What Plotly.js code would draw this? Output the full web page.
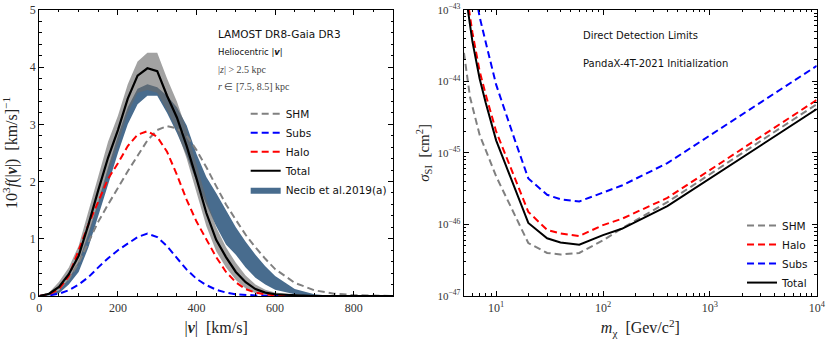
<!DOCTYPE html>
<html>
<head>
<meta charset="utf-8">
<script src="https://cdn.plot.ly/plotly-3.0.1.min.js"></script>
<style>
  html, body { margin: 0; padding: 0; background: #fff; }
  #chart { width: 830px; height: 341px; }
</style>
</head>
<body>
<div id="chart"></div>
<script>
// left panel: speed distributions, 10^3 f(|v|)
const speed = [0, 25, 50, 75, 100, 125, 150, 175, 200, 225, 250, 275, 300, 325, 350, 375, 400,
               425, 450, 475, 500, 525, 550, 575, 600, 650, 700, 750, 800, 850, 900];
const shmF = [0, 0.03, 0.12, 0.3, 0.58, 0.95, 1.3, 1.6, 1.9, 2.18, 2.45, 2.72, 2.9, 2.97, 2.93, 2.8, 2.55,
              2.25, 1.92, 1.6, 1.33, 1.07, 0.85, 0.65, 0.47, 0.23, 0.1, 0.04, 0.015, 0.005, 0];
const subsF = [0, 0.01, 0.04, 0.1, 0.2, 0.33, 0.5, 0.66, 0.8, 0.92, 1.03, 1.09, 1.03, 0.87, 0.66, 0.46, 0.3,
               0.19, 0.11, 0.06, 0.03, 0.015, 0.01, 0.005, 0, 0, 0, 0, 0, 0, 0];
const haloF = [0, 0.03, 0.12, 0.35, 0.8, 1.25, 1.65, 2.05, 2.32, 2.62, 2.82, 2.88, 2.78, 2.52, 2.12, 1.68, 1.3,
               0.98, 0.68, 0.42, 0.24, 0.12, 0.06, 0.03, 0.01, 0, 0, 0, 0, 0, 0];
const totalF = [0, 0.04, 0.16, 0.38, 0.7, 1.25, 1.85, 2.42, 2.9, 3.45, 3.85, 3.98, 3.93, 3.5, 3.12, 2.62, 2.05,
                1.45, 0.98, 0.68, 0.42, 0.24, 0.12, 0.06, 0.03, 0.01, 0, 0, 0, 0, 0];
const totalHi = [0, 0.06, 0.25, 0.5, 0.88, 1.5, 2.1, 2.7, 3.15, 3.7, 4.1, 4.25, 4.25, 3.8, 3.4, 2.9, 2.3,
                 1.7, 1.2, 0.85, 0.58, 0.36, 0.2, 0.11, 0.06, 0.02, 0, 0, 0, 0, 0];
const totalLo = [0, 0.02, 0.1, 0.27, 0.55, 1.05, 1.6, 2.15, 2.65, 3.2, 3.55, 3.6, 3.55, 3.25, 2.9, 2.4, 1.8,
                 1.22, 0.78, 0.5, 0.28, 0.13, 0.05, 0.02, 0.01, 0, 0, 0, 0, 0, 0];
const necibHi = [0, 0.03, 0.1, 0.3, 0.6, 1.1, 1.65, 2.25, 2.8, 3.3, 3.62, 3.7, 3.65, 3.5, 3.3, 2.98, 2.48,
                 2.08, 1.8, 1.5, 1.2, 0.95, 0.72, 0.52, 0.35, 0.12, 0.03, 0, 0, 0, 0];
const necibLo = [0, 0.01, 0.05, 0.2, 0.42, 0.85, 1.4, 1.95, 2.5, 3.0, 3.35, 3.5, 3.5, 3.2, 2.85, 2.45, 2.0,
                 1.6, 1.22, 0.9, 0.72, 0.5, 0.32, 0.2, 0.11, 0.03, 0, 0, 0, 0, 0];

// right panel: cross-section limits [cm^2] vs WIMP mass [GeV/c^2]
const massShm = [5, 5.7, 7, 8, 10, 20, 30, 40, 60, 100, 150, 400, 10000];
const sigmaShm = [2.5e-44, 6e-45, 1.8e-45, 1.1e-45, 4.7e-46, 5.5e-47, 4e-47, 3.8e-47, 4e-47, 6e-47, 8.8e-47, 2.05e-46, 4.8e-45];
const massHalo = [5, 6, 7, 8, 10, 20, 30, 40, 60, 100, 150, 400, 10000];
const sigmaHalo = [3e-43, 4.8e-44, 1.4e-44, 6.5e-45, 2e-45, 1.5e-46, 8.4e-47, 7.5e-47, 6.9e-47, 9.8e-47, 1.2e-46, 2.35e-46, 5.5e-45];
const massSubs = [6, 6.5, 7, 8, 10, 15, 20, 30, 40, 60, 100, 150, 400, 10000];
const sigmaSubs = [3e-43, 1.6e-43, 8e-44, 3.5e-44, 9e-45, 1.5e-45, 4.4e-46, 2.6e-46, 2.25e-46, 2.1e-46, 2.8e-46, 3.5e-46, 7.2e-46, 1.65e-44];
const massTotal = [5, 6, 7, 8, 10, 20, 30, 40, 60, 100, 150, 400, 10000];
const sigmaTotal = [2.4e-43, 3.6e-44, 1.1e-44, 5e-45, 1.5e-45, 1.05e-46, 6.4e-47, 5.6e-47, 5.2e-47, 7.1e-47, 8.7e-47, 1.8e-46, 4.1e-45];

const serif = "Liberation Serif, Times New Roman, serif";
const sans = "DejaVu Sans, sans-serif";
const dashed = "7px,4px";

const band = (x, hi, lo) => ({
    x: [...x, ...x.slice().reverse()],
    y: [...hi, ...lo.slice().reverse()]
});

const necibPoly = band(speed, necibHi, necibLo);
const totalPoly = band(speed, totalHi, totalLo);

const traces = [
    {
        x: necibPoly.x, y: necibPoly.y, type: "scatter", mode: "lines",
        fill: "toself", fillcolor: "#486c8e", line: {width: 0, color: "#486c8e"},
        name: "Necib et al.2019(a)", legendrank: 5, legend: "legend"
    },
    {
        x: totalPoly.x, y: totalPoly.y, type: "scatter", mode: "lines",
        fill: "toself", fillcolor: "rgba(105,105,105,0.62)", line: {width: 0},
        showlegend: false
    },
    {
        x: speed, y: shmF, mode: "lines", name: "SHM", legendrank: 1,
        line: {color: "#808080", width: 2, dash: dashed}
    },
    {
        x: speed, y: subsF, mode: "lines", name: "Subs", legendrank: 2,
        line: {color: "#0000ff", width: 2, dash: dashed}
    },
    {
        x: speed, y: haloF, mode: "lines", name: "Halo", legendrank: 3,
        line: {color: "#ff0000", width: 2, dash: dashed}
    },
    {
        x: speed, y: totalF, mode: "lines", name: "Total", legendrank: 4,
        line: {color: "#000000", width: 2.2}
    },
    // right panel
    {
        x: massShm, y: sigmaShm, mode: "lines", name: "SHM", legendrank: 1,
        xaxis: "x2", yaxis: "y2", legend: "legend2",
        line: {color: "#808080", width: 2, dash: dashed}
    },
    {
        x: massHalo, y: sigmaHalo, mode: "lines", name: "Halo", legendrank: 2,
        xaxis: "x2", yaxis: "y2", legend: "legend2",
        line: {color: "#ff0000", width: 2, dash: dashed}
    },
    {
        x: massSubs, y: sigmaSubs, mode: "lines", name: "Subs", legendrank: 3,
        xaxis: "x2", yaxis: "y2", legend: "legend2",
        line: {color: "#0000ff", width: 2, dash: dashed}
    },
    {
        x: massTotal, y: sigmaTotal, mode: "lines", name: "Total", legendrank: 4,
        xaxis: "x2", yaxis: "y2", legend: "legend2",
        line: {color: "#000000", width: 2}
    }
];

const axisCommon = {
    showline: true, linecolor: "#000", linewidth: 1.3, mirror: "allticks",
    ticks: "inside", ticklen: 5, tickwidth: 1, tickcolor: "#000",
    showgrid: false, zeroline: false,
    tickfont: {family: serif, size: 12, color: "#333"},
    minor: {ticks: "inside", ticklen: 2.5, tickcolor: "#000", showgrid: false}
};

const legendCommon = {
    font: {family: sans, size: 10.5, color: "#111"},
    bgcolor: "rgba(0,0,0,0)", borderwidth: 0,
    xanchor: "left", yanchor: "top", traceorder: "normal"
};

const layout = {
    width: 830, height: 341,
    margin: {l: 0, r: 0, t: 0, b: 0},
    paper_bgcolor: "#fff", plot_bgcolor: "#fff",
    showlegend: true,
    xaxis: {
        ...axisCommon, domain: [0.0474, 0.4735], range: [0, 900],
        tickvals: [0, 200, 400, 600, 800],
        minor: {...axisCommon.minor, dtick: 50},
        title: {text: "|<b><i>v</i></b>|  [km/s]", font: {family: serif, size: 16, color: "#222"}, standoff: 8}
    },
    yaxis: {
        ...axisCommon, domain: [0.132, 0.971], range: [0, 5],
        tickvals: [0, 1, 2, 3, 4, 5],
        minor: {...axisCommon.minor, dtick: 0.2},
        title: {text: "10<sup>3</sup><i>f</i>(|<b><i>v</i></b>|)  [km/s]<sup>−1</sup>", font: {family: serif, size: 16, color: "#222"}, standoff: 8}
    },
    xaxis2: {
        ...axisCommon, type: "log", domain: [0.559, 0.984], range: [Math.log10(5), 4],
        anchor: "y2",
        tickvals: [10, 100, 1000, 10000],
        ticktext: ["10<sup>1</sup>", "10<sup>2</sup>", "10<sup>3</sup>", "10<sup>4</sup>"],
        minor: {...axisCommon.minor, dtick: "D1"},
        title: {text: "<i>m</i><sub>χ</sub>  [Gev/c<sup>2</sup>]", font: {family: serif, size: 16, color: "#222"}, standoff: 8}
    },
    yaxis2: {
        ...axisCommon, type: "log", domain: [0.132, 0.971], range: [-47, -43],
        anchor: "x2",
        tickvals: [1e-47, 1e-46, 1e-45, 1e-44, 1e-43],
        ticktext: ["10<sup>−47</sup>", "10<sup>−46</sup>", "10<sup>−45</sup>", "10<sup>−44</sup>", "10<sup>−43</sup>"],
        tickfont: {family: serif, size: 11, color: "#333"},
        minor: {...axisCommon.minor, dtick: "D1"},
        title: {text: "<i>σ</i><sub>SI</sub>  [cm<sup>2</sup>]", font: {family: serif, size: 15, color: "#222"}, standoff: 4}
    },
    legend: {...legendCommon, x: 0.296, y: 0.709},
    legend2: {...legendCommon, x: 0.894, y: 0.381},
    annotations: [
        {text: "LAMOST DR8-Gaia DR3", x: 0.26, y: 0.90, font: {family: sans, size: 10.5, color: "#111"}},
        {text: "Heliocentric |<b><i>v</i></b>|", x: 0.26, y: 0.847, font: {family: sans, size: 8.5, color: "#111"}},
        {text: "|<i>z</i>| > 2.5 kpc", x: 0.26, y: 0.797, font: {family: serif, size: 10, color: "#444"}},
        {text: "<i>r</i> ∈ [7.5, 8.5] kpc", x: 0.26, y: 0.745, font: {family: serif, size: 10, color: "#444"}},
        {text: "Direct Detection Limits", x: 0.7, y: 0.897, font: {family: sans, size: 10, color: "#111"}},
        {text: "PandaX-4T-2021 Initialization", x: 0.7, y: 0.815, font: {family: sans, size: 10, color: "#111"}}
    ].map(a => ({...a, xref: "paper", yref: "paper", xanchor: "left", yanchor: "middle", showarrow: false}))
};

Plotly.newPlot("chart", traces, layout, {staticPlot: true});
</script>
</body>
</html>
